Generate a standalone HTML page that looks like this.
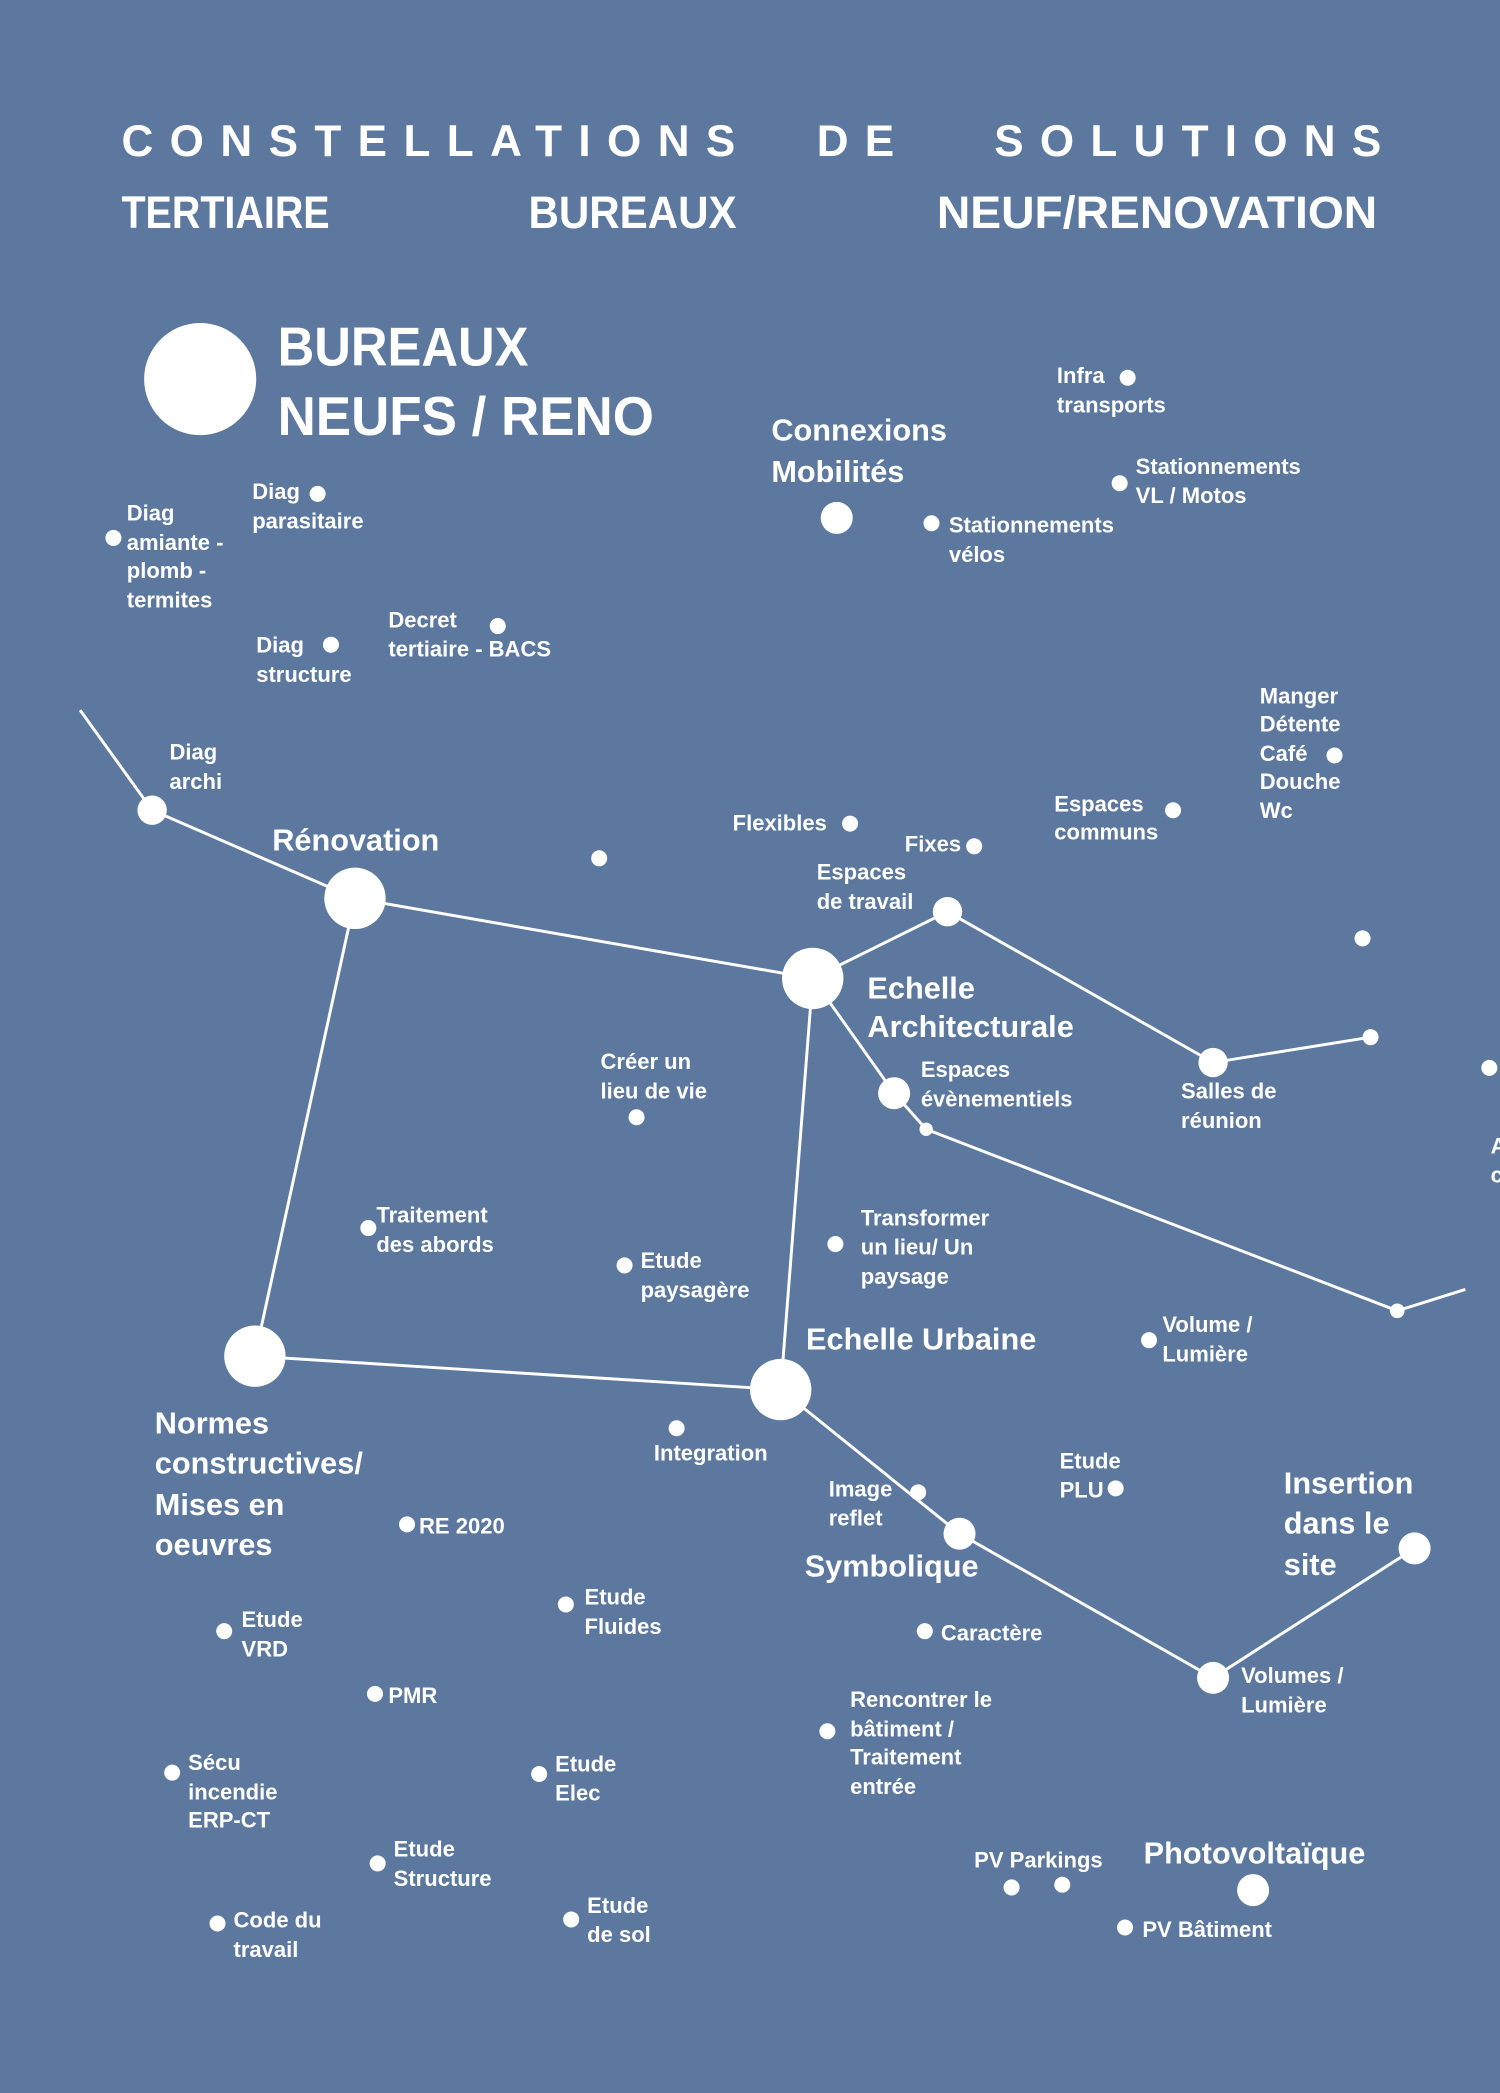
<!DOCTYPE html>
<html><head><meta charset="utf-8"><style>
html,body{margin:0;padding:0;background:#5d789f;}
svg{display:block}
text{font-family:"Liberation Sans",sans-serif;fill:#fff;font-weight:bold}
.s{font-size:16.5px}
.m{font-size:23px}
</style></head><body>
<svg width="1500" height="2093" viewBox="0 0 1124 1568" preserveAspectRatio="none" xmlns="http://www.w3.org/2000/svg">
<rect width="1124" height="1568" fill="#5d789f"/>
<text x="91" y="117" font-size="33" textLength="460" lengthAdjust="spacing">CONSTELLATIONS</text>
<text x="612" y="117" font-size="33" textLength="58" lengthAdjust="spacing">DE</text>
<text x="745" y="117" font-size="33" textLength="290" lengthAdjust="spacing">SOLUTIONS</text>
<text x="91" y="171" font-size="34" textLength="156" lengthAdjust="spacingAndGlyphs">TERTIAIRE</text>
<text x="396" y="171" font-size="34" textLength="156" lengthAdjust="spacingAndGlyphs">BUREAUX</text>
<text x="702" y="171" font-size="34" textLength="330" lengthAdjust="spacingAndGlyphs">NEUF/RENOVATION</text>
<circle cx="150" cy="284" r="42" fill="#fff"/>
<text x="208" y="274" font-size="41" textLength="188" lengthAdjust="spacingAndGlyphs">BUREAUX</text>
<text x="208" y="326" font-size="41" textLength="282" lengthAdjust="spacingAndGlyphs">NEUFS / RENO</text>

<g stroke="#fff" stroke-width="2.2" fill="none">
<polyline points="60,532 114,607 266,673 609,733 710,683 909,796 1027,777"/>
<polyline points="266,673 191,1016 585,1041 609,733"/>
<polyline points="609,733 670,819 694,846 1047,982 1098,966"/>
<polyline points="585,1041 719,1149 909,1257 1060,1160"/>
</g>
<g fill="#fff">
<circle cx="114" cy="607" r="11"/><circle cx="266" cy="673" r="23"/><circle cx="609" cy="733" r="23"/>
<circle cx="191" cy="1016" r="23"/><circle cx="585" cy="1041" r="23"/>
<circle cx="710" cy="683" r="11"/><circle cx="909" cy="796" r="11"/><circle cx="1027" cy="777" r="6"/>
<circle cx="670" cy="819" r="12"/><circle cx="694" cy="846" r="5"/><circle cx="1047" cy="982" r="5.5"/>
<circle cx="719" cy="1149" r="12"/><circle cx="909" cy="1257" r="12"/><circle cx="1060" cy="1160" r="12"/>
<circle cx="688" cy="1118" r="6"/><circle cx="627" cy="388" r="12"/>
<circle cx="845" cy="283" r="6"/><circle cx="839" cy="362" r="6"/><circle cx="698" cy="392" r="6"/>
<circle cx="238" cy="370" r="6"/><circle cx="85" cy="403" r="6"/><circle cx="248" cy="483" r="6"/><circle cx="373" cy="469" r="6"/>
<circle cx="449" cy="643" r="6"/><circle cx="637" cy="617" r="6"/><circle cx="730" cy="634" r="6"/><circle cx="879" cy="607" r="6"/>
<circle cx="1000" cy="566" r="6"/><circle cx="1021" cy="703" r="6"/><circle cx="1116" cy="800" r="6"/>
<circle cx="477" cy="837" r="6"/><circle cx="276" cy="920" r="6"/><circle cx="468" cy="948" r="6"/><circle cx="626" cy="932" r="6"/>
<circle cx="861" cy="1004" r="6"/><circle cx="507" cy="1070" r="6"/><circle cx="836" cy="1115" r="6"/><circle cx="305" cy="1142" r="6"/>
<circle cx="424" cy="1202" r="6"/><circle cx="168" cy="1222" r="6"/><circle cx="693" cy="1222" r="6"/><circle cx="281" cy="1269" r="6"/>
<circle cx="620" cy="1297" r="6"/><circle cx="129" cy="1328" r="6"/><circle cx="404" cy="1329" r="6"/><circle cx="283" cy="1396" r="6"/>
<circle cx="758" cy="1414" r="6"/><circle cx="796" cy="1412" r="6"/><circle cx="939" cy="1416" r="12"/><circle cx="843" cy="1444" r="6"/>
<circle cx="163" cy="1441" r="6"/><circle cx="428" cy="1438" r="6"/>
</g>

<text class="m" x="578" y="330">Connexions</text>
<text class="m" x="578" y="361">Mobilités</text>
<text class="s" x="792" y="287">Infra</text><text class="s" x="792" y="309">transports</text>
<text class="s" x="851" y="355">Stationnements</text><text class="s" x="851" y="377">VL / Motos</text>
<text class="s" x="711" y="399">Stationnements</text><text class="s" x="711" y="421">vélos</text>
<text class="s" x="189" y="374">Diag</text><text class="s" x="189" y="396">parasitaire</text>
<text class="s" x="95" y="390">Diag</text><text class="s" x="95" y="412">amiante -</text><text class="s" x="95" y="433">plomb -</text><text class="s" x="95" y="455">termites</text>
<text class="s" x="192" y="489">Diag</text><text class="s" x="192" y="511">structure</text>
<text class="s" x="291" y="470">Decret</text><text class="s" x="291" y="492">tertiaire - BACS</text>
<text class="s" x="127" y="569">Diag</text><text class="s" x="127" y="591">archi</text>
<text class="m" x="204" y="637">Rénovation</text>
<text class="s" x="549" y="622">Flexibles</text>
<text class="s" x="678" y="638">Fixes</text>
<text class="s" x="612" y="659">Espaces</text><text class="s" x="612" y="681">de travail</text>
<text class="s" x="790" y="608">Espaces</text><text class="s" x="790" y="629">communs</text>
<text class="s" x="944" y="527">Manger</text><text class="s" x="944" y="548">Détente</text><text class="s" x="944" y="570">Café</text><text class="s" x="944" y="591">Douche</text><text class="s" x="944" y="613">Wc</text>
<text class="m" x="650" y="748">Echelle</text><text class="m" x="650" y="777">Architecturale</text>
<text class="s" x="690" y="807">Espaces</text><text class="s" x="690" y="829">évènementiels</text>
<text class="s" x="885" y="823">Salles de</text><text class="s" x="885" y="845">réunion</text>
<text class="s" x="1117" y="864">A</text><text class="s" x="1117" y="886">c</text>
<text class="s" x="450" y="801">Créer un</text><text class="s" x="450" y="823">lieu de vie</text>
<text class="s" x="282" y="916">Traitement</text><text class="s" x="282" y="938">des abords</text>
<text class="s" x="480" y="950">Etude</text><text class="s" x="480" y="972">paysagère</text>
<text class="s" x="645" y="918">Transformer</text><text class="s" x="645" y="940">un lieu/ Un</text><text class="s" x="645" y="962">paysage</text>
<text class="m" x="604" y="1011">Echelle Urbaine</text>
<text class="s" x="871" y="998">Volume /</text><text class="s" x="871" y="1020">Lumière</text>
<text class="m" x="116" y="1074">Normes</text><text class="m" x="116" y="1104">constructives/</text><text class="m" x="116" y="1135">Mises en</text><text class="m" x="116" y="1165">oeuvres</text>
<text class="s" x="490" y="1094">Integration</text>
<text class="s" x="621" y="1121">Image</text><text class="s" x="621" y="1143">reflet</text>
<text class="s" x="794" y="1100">Etude</text><text class="s" x="794" y="1122">PLU</text>
<text class="m" x="962" y="1119">Insertion</text><text class="m" x="962" y="1149">dans le</text><text class="m" x="962" y="1180">site</text>
<text class="m" x="603" y="1181">Symbolique</text>
<text class="s" x="314" y="1149">RE 2020</text>
<text class="s" x="438" y="1202">Etude</text><text class="s" x="438" y="1224">Fluides</text>
<text class="s" x="181" y="1219">Etude</text><text class="s" x="181" y="1241">VRD</text>
<text class="s" x="705" y="1229">Caractère</text>
<text class="s" x="930" y="1261">Volumes /</text><text class="s" x="930" y="1283">Lumière</text>
<text class="s" x="291" y="1276">PMR</text>
<text class="s" x="637" y="1279">Rencontrer le</text><text class="s" x="637" y="1301">bâtiment /</text><text class="s" x="637" y="1322">Traitement</text><text class="s" x="637" y="1344">entrée</text>
<text class="s" x="141" y="1326">Sécu</text><text class="s" x="141" y="1348">incendie</text><text class="s" x="141" y="1369">ERP-CT</text>
<text class="s" x="416" y="1327">Etude</text><text class="s" x="416" y="1349">Elec</text>
<text class="s" x="295" y="1391">Etude</text><text class="s" x="295" y="1413">Structure</text>
<text class="s" x="730" y="1399">PV Parkings</text>
<text class="m" x="857" y="1396">Photovoltaïque</text>
<text class="s" x="856" y="1451">PV Bâtiment</text>
<text class="s" x="175" y="1444">Code du</text><text class="s" x="175" y="1466">travail</text>
<text class="s" x="440" y="1433">Etude</text><text class="s" x="440" y="1455">de sol</text>
</svg>
</body></html>
